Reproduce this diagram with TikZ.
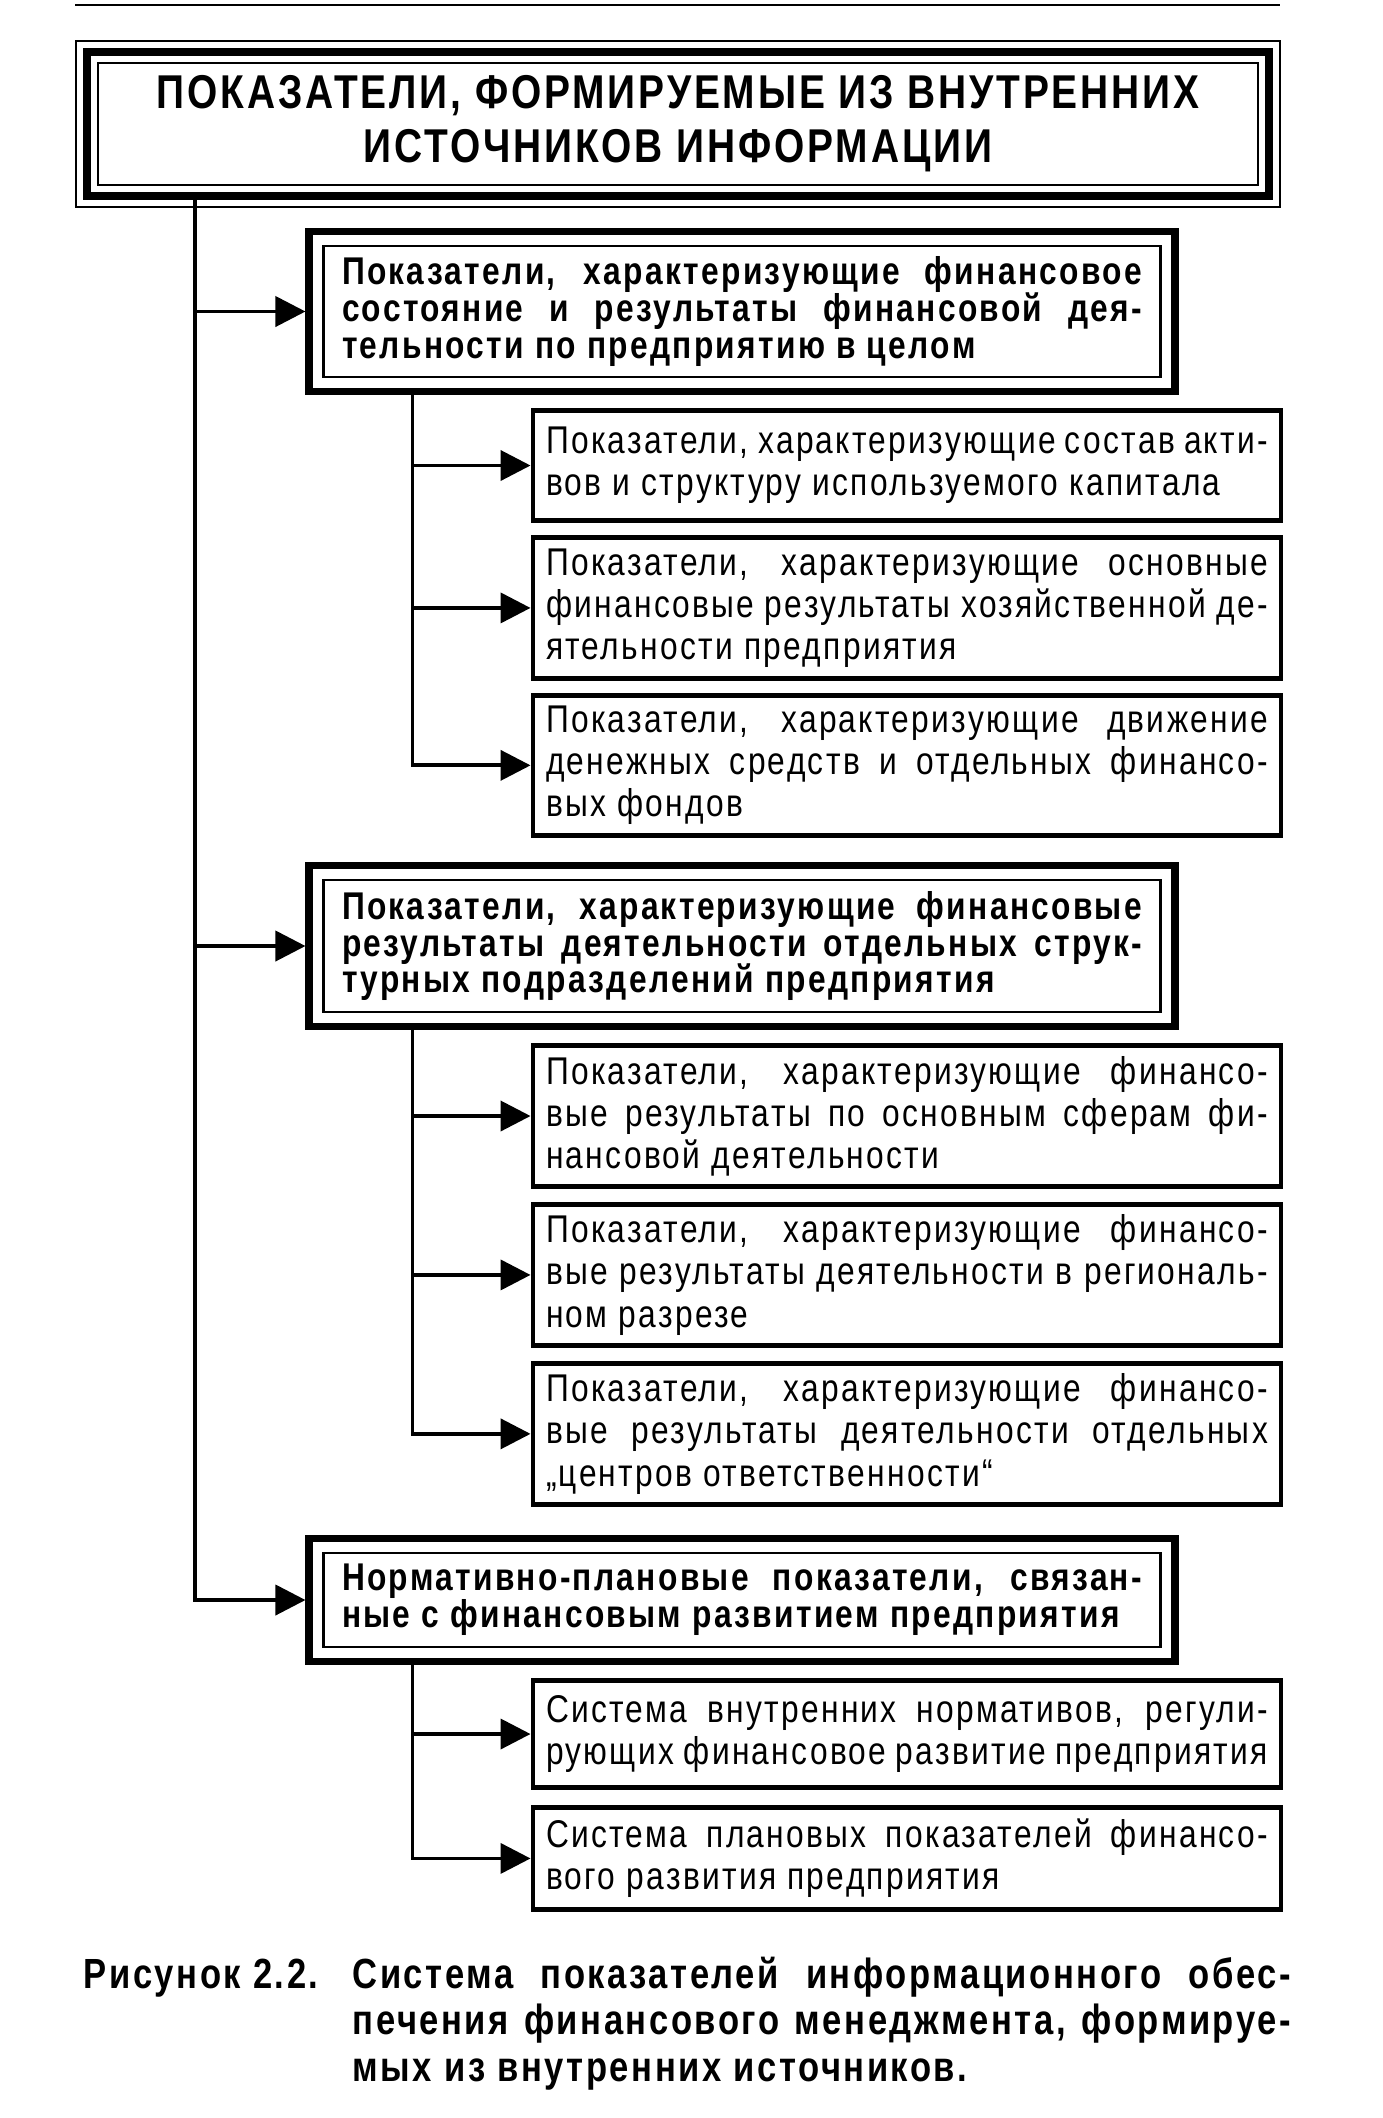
\documentclass[tikz,border=0pt]{standalone}
\usepackage{fontspec}
\setmainfont{Liberation Sans}[FakeStretch=0.82,LetterSpace=6]
\usepackage{tikz}
\usetikzlibrary{positioning,arrows.meta,calc}
\setlength\parindent{0pt}
\lineskiplimit=-8pt
\hyphenpenalty=10000
\tikzset{
  ttl/.style  ={draw, rectangle, line width=2.2pt, align=center, minimum width=11.82cm, minimum height=1.44cm, font=\fontsize{13.5}{15.4}\selectfont\bfseries},
  grp/.style  ={draw, rectangle, line width=2pt, align=justify, text width=8.0cm, inner xsep=0.33cm, inner ysep=2pt, font=\fontsize{11}{10.5}\selectfont\bfseries},
  sub/.style  ={draw, rectangle, line width=1.4pt, align=justify, text width=7.22cm, inner xsep=0.13cm, inner ysep=2pt, font=\fontsize{11}{12}\selectfont},
  capt/.style ={align=justify, text width=12.07cm, inner sep=0pt, font=\fontsize{12}{13.3}\selectfont\bfseries},
  frm/.style  ={line width=0.6pt},
  arr/.style  ={-{Triangle[length=3mm,width=3mm]}, line width=1.1pt},
}
\begin{document}
\begin{tikzpicture}
  \useasboundingbox (0,0) rectangle (13.82,-21.18);
  \draw[frm] (0.75,-0.05) -- (12.80,-0.05);

  \node[ttl] (ttl) at (6.78,-1.24) {ПОКАЗАТЕЛИ, ФОРМИРУЕМЫЕ ИЗ ВНУТРЕННИХ\\ИСТОЧНИКОВ ИНФОРМАЦИИ};
  \draw[frm] ([shift={(-0.07,0.07)}]ttl.north west) rectangle ([shift={(0.07,-0.07)}]ttl.south east);
  \draw[frm] ([shift={(0.15,-0.15)}]ttl.north west) rectangle ([shift={(-0.15,0.15)}]ttl.south east);

  \node[grp, minimum height=1.60cm] (a) at (7.42,-3.115)
    {Показатели, характеризующие финансовое\linebreak состояние и результаты финансовой дея-\linebreak тельности по предприятию в целом};
  \node[sub, minimum height=1.10cm] (a1) at (9.07,-4.655)
    {Показатели, характеризующие состав акти-\linebreak вов и структуру используемого капитала};
  \node[sub, minimum height=1.41cm, below=0.12cm of a1] (a2)
    {Показатели, характеризующие основные\linebreak финансовые результаты хозяйственной де-\linebreak ятельности предприятия};
  \node[sub, minimum height=1.40cm, below=0.12cm of a2] (a3)
    {Показатели, характеризующие движение\linebreak денежных средств и отдельных финансо-\linebreak вых фондов};

  \node[grp, minimum height=1.61cm] (b) at (7.42,-9.46)
    {Показатели, характеризующие финансовые\linebreak результаты деятельности отдельных струк-\linebreak турных подразделений предприятия};
  \node[sub, minimum height=1.41cm] (b1) at (9.07,-11.16)
    {Показатели, характеризующие финансо-\linebreak вые результаты по основным сферам фи-\linebreak нансовой деятельности};
  \node[sub, minimum height=1.41cm, below=0.13cm of b1] (b2)
    {Показатели, характеризующие финансо-\linebreak вые результаты деятельности в региональ-\linebreak ном разрезе};
  \node[sub, minimum height=1.41cm, below=0.13cm of b2] (b3)
    {Показатели, характеризующие финансо-\linebreak вые результаты деятельности отдельных\linebreak „центров ответственности“};

  \node[grp, minimum height=1.23cm] (c) at (7.42,-16.00)
    {Нормативно-плановые показатели, связан-\linebreak ные с финансовым развитием предприятия};
  \node[sub, minimum height=1.07cm] (c1) at (9.07,-17.34)
    {Система внутренних нормативов, регули-\linebreak рующих финансовое развитие предприятия};
  \node[sub, minimum height=1.02cm, below=0.15cm of c1] (c2)
    {Система плановых показателей финансо-\linebreak вого развития предприятия};

  \draw[frm] ([shift={(0.18,-0.18)}]a.north west) rectangle ([shift={(-0.18,0.18)}]a.south east);
  \draw[frm] ([shift={(0.18,-0.18)}]b.north west) rectangle ([shift={(-0.18,0.18)}]b.south east);
  \draw[frm] ([shift={(0.18,-0.18)}]c.north west) rectangle ([shift={(-0.18,0.18)}]c.south east);

  \coordinate (m0) at ([xshift=1.12cm]ttl.south west);
  \draw[arr] (m0) |- (c);
  \draw[arr] (m0 |- a) -- (a);
  \draw[arr] (m0 |- b) -- (b);

  \coordinate (ja) at ([xshift=1.07cm]a.south west);
  \draw[arr] (ja) |- (a3);
  \draw[arr] (ja |- a1) -- (a1);
  \draw[arr] (ja |- a2) -- (a2);

  \coordinate (jb) at ([xshift=1.07cm]b.south west);
  \draw[arr] (jb) |- (b3);
  \draw[arr] (jb |- b1) -- (b1);
  \draw[arr] (jb |- b2) -- (b2);

  \coordinate (jc) at ([xshift=1.07cm]c.south west);
  \draw[arr] (jc) |- (c2);
  \draw[arr] (jc |- c1) -- (c1);

  \node[capt, anchor=base west] (cap) at (0.83,-19.88)
    {\hangindent=2.69cm\hangafter=1\makebox[2.69cm][l]{Рисунок 2.2.}Система показателей информационного обес-\linebreak печения финансового менеджмента, формируе-\linebreak мых из внутренних источников.\par};
\end{tikzpicture}
\end{document}
